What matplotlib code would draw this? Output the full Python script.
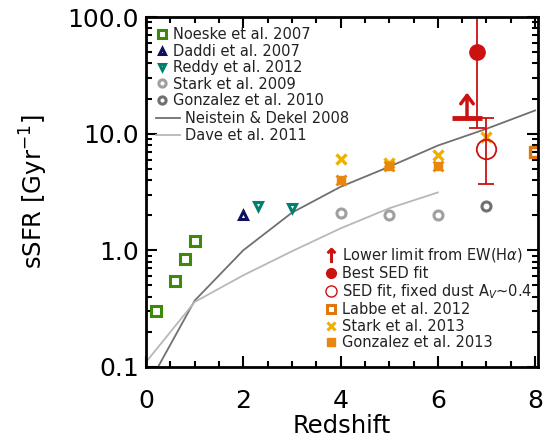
import matplotlib
matplotlib.use("Agg")
import matplotlib.pyplot as plt
from matplotlib.lines import Line2D
import numpy as np

plt.rcParams['font.family'] = ['DejaVu Sans']

# ---- data ----
noeske_z = [0.2, 0.6, 0.8, 1.0]
noeske_s = [0.30, 0.54, 0.84, 1.19]
daddi_z = [2.0]
daddi_s = [2.0]
reddy_z = [2.3, 3.0]
reddy_s = [2.38, 2.29]
stark09_z = [4.0, 5.0, 6.0]
stark09_s = [2.1, 2.0, 2.0]
gonz10_z = [7.0]
gonz10_s = [2.4]
labbe_z = [8.0]
labbe_s = [6.9]
stark13_z = [4.0, 5.0, 6.0, 7.0]
stark13_s = [6.1, 5.65, 6.5, 9.3]
gonz13_z = [4.0, 5.0, 6.0]
gonz13_s = [4.0, 5.3, 5.3]

neistein_z = [0, 1, 2, 3, 4, 5, 6, 7, 8]
neistein_s = [0.065, 0.37, 1.0, 2.1, 3.5, 5.2, 7.9, 11.0, 15.8]
dave_z = [0, 1, 2, 3, 4, 5, 6]
dave_s = [0.11, 0.36, 0.61, 0.98, 1.54, 2.29, 3.13]

best_z = 6.8
best_s = 50.0
best_lo = 11.2
best_hi = 100.0
fixed_z = 7.0
fixed_s = 7.4
fixed_lo = 3.7
fixed_hi = 13.7
limit_z = 6.6
limit_s = 13.7
limit_halfwidth = 0.3
limit_top = 22.5

red = '#cc1111'
fig = plt.figure(figsize=(5.49, 4.42), dpi=100)
ax = fig.add_axes([0.266, 0.170, 0.714, 0.7915])
ax.set_yscale('log')
ax.set_xlim(0, 8.06)
ax.set_ylim(0.1, 100)

# model lines
ax.plot(neistein_z, neistein_s, color='#707070', lw=1.3)
ax.plot(dave_z, dave_s, color='#b8b8b8', lw=1.3)

ms = 6.5
h_noeske, = ax.plot(noeske_z, noeske_s, 's', ms=ms, mfc='none', mec='#3c8a0a', mew=2.2, ls='none')
h_daddi, = ax.plot(daddi_z, daddi_s, '^', ms=6, mfc='none', mec='#101060', mew=2.2, ls='none')
h_reddy, = ax.plot(reddy_z, reddy_s, 'v', ms=6, mfc='none', mec='#00806e', mew=2.2, ls='none')
h_stark09, = ax.plot(stark09_z, stark09_s, 'o', ms=ms, mfc='none', mec='#a0a0a0', mew=2.2, ls='none')
h_gonz10, = ax.plot(gonz10_z, gonz10_s, 'o', ms=ms, mfc='none', mec='#707070', mew=2.2, ls='none')
h_labbe, = ax.plot(labbe_z, labbe_s, 's', ms=ms, mfc='none', mec='#e07812', mew=2.4, ls='none')
h_stark13, = ax.plot(stark13_z, stark13_s, 'x', ms=6.5, mec='#f0b000', mew=2.4, ls='none')
ax.plot(gonz13_z, gonz13_s, 'x', ms=7.5, mec='#e8860f', mew=2.0, ls='none')
h_gonz13, = ax.plot(gonz13_z, gonz13_s, 's', ms=6, mfc='#e8860f', mec='#e8860f', ls='none')

# red measurements
ax.errorbar([best_z], [best_s], yerr=[[best_s - best_lo], [best_hi - best_s]],
            fmt='o', ms=11, color=red, ecolor=red, elinewidth=1.3, capsize=6, capthick=1.3)
ax.errorbar([fixed_z], [fixed_s], yerr=[[fixed_s - fixed_lo], [fixed_hi - fixed_s]],
            fmt='o', ms=14, mfc='none', mec=red, mew=1.3, ecolor=red, elinewidth=1.3,
            capsize=6, capthick=1.3)
ax.plot([limit_z - limit_halfwidth, limit_z + limit_halfwidth], [limit_s, limit_s],
        color=red, lw=3.5, solid_capstyle='butt')
ax.annotate('', xy=(limit_z, limit_top), xytext=(limit_z, limit_s),
            arrowprops=dict(arrowstyle='->,head_width=0.45,head_length=0.6', color=red, lw=2.5,
                            shrinkA=0, shrinkB=0))

# ticks / axes
ax.set_xticks([0, 2, 4, 6, 8])
ax.set_xticks(np.arange(0, 8.01, 0.5), minor=True)
ax.set_yticks([0.1, 1, 10, 100])
ax.set_yticklabels(['0.1', '1.0', '10.0', '100.0'])
ax.tick_params(which='both', direction='in', top=True, right=True, width=1.5)
ax.tick_params(which='major', length=8, labelsize=18)
ax.tick_params(axis='x', which='major', pad=16)
ax.tick_params(axis='y', which='major', pad=5)
ax.tick_params(which='minor', length=4)
for s in ax.spines.values():
    s.set_linewidth(2)
ax.set_xlabel('Redshift', fontsize=17.5, labelpad=1)
ax.set_ylabel(r'sSFR [Gyr$^{-1}$]', fontsize=17.5, labelpad=13)

# legends
lkw = dict(frameon=False, fontsize=10.5, labelspacing=0.1, borderaxespad=0.3)
leg1 = ax.legend([h_noeske, h_daddi, h_reddy, h_stark09, h_gonz10],
                 ['Noeske et al. 2007', 'Daddi et al. 2007', 'Reddy et al. 2012',
                  'Stark et al. 2009', 'Gonzalez et al. 2010'],
                 loc='upper left', bbox_to_anchor=(0.0, 1.0),
                 handlelength=0.8, handletextpad=0.35, markerscale=0.8, **lkw)
for t in leg1.get_texts():
    t.set_color('#222222')
ax.add_artist(leg1)
lines = [Line2D([0], [0], color='#707070', lw=1.3), Line2D([0], [0], color='#b8b8b8', lw=1.3)]
leg2 = ax.legend(lines, ['Neistein & Dekel 2008', 'Dave et al. 2011'],
                 loc='upper left', bbox_to_anchor=(0.0, 0.76),
                 handlelength=1.6, handletextpad=0.4, **lkw)
for t in leg2.get_texts():
    t.set_color('#222222')
ax.add_artist(leg2)

arrow_h = Line2D([0], [0], marker=r'$\uparrow$', color=red, ls='none', ms=10)
best_h = Line2D([0], [0], marker='o', color=red, ls='none', ms=7)
fixed_h = Line2D([0], [0], marker='o', mfc='none', mec=red, ls='none', ms=8, mew=1.0)
lab_h = Line2D([0], [0], marker='s', mfc='none', mec='#e07812', ls='none', ms=6, mew=2.2)
st_h = Line2D([0], [0], marker='x', mec='#f0b000', ls='none', ms=6, mew=2.2)
gz_h = Line2D([0], [0], marker='s', mfc='#e8860f', mec='#e8860f', ls='none', ms=6)
leg3 = ax.legend([arrow_h, best_h, fixed_h, lab_h, st_h, gz_h],
                 [r'Lower limit from EW(H$\alpha$)', 'Best SED fit',
                  r'SED fit, fixed dust A$_V$~0.4', 'Labbe et al. 2012',
                  'Stark et al. 2013', 'Gonzalez et al. 2013'],
                 loc='lower left', bbox_to_anchor=(0.43, 0.018),
                 handlelength=0.8, handletextpad=0.35, **lkw)
for t in leg3.get_texts():
    t.set_color('#222222')

fig.savefig('out.png', dpi=100)
